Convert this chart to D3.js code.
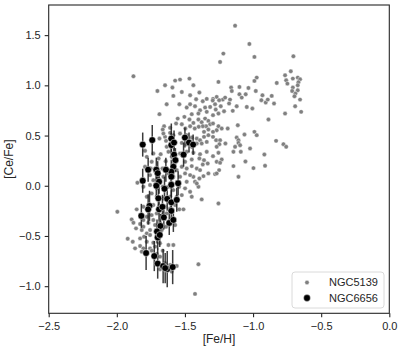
<!DOCTYPE html>
<html>
<head>
<meta charset="utf-8">
<script src="https://cdn.jsdelivr.net/npm/d3@7"></script>
<style>
  body { margin: 0; background: #fff; }
  svg { display: block; font-family: "Liberation Sans", Arial, sans-serif; }
</style>
</head>
<body>
<div id="graph"></div>
<script>
// DONNEES

// NGC5139 : [Fe/H], [Ce/Fe]
const ngc5139 = [
  [-1.132,1.594],[-1.027,1.412],[-1.218,1.316],[-0.990,1.283],[-0.704,1.289],[-1.242,1.233],
  [-1.878,1.090],[-1.536,1.057],[-1.467,1.067],[-1.572,1.047],[-1.254,1.034],[-0.973,1.077],
  [-0.990,1.044],[-0.765,1.100],[-0.723,1.140],[-0.757,1.050],[-0.708,1.067],[-0.672,1.077],
  [-0.655,1.060],[-0.667,1.031],[-0.748,1.017],[-0.826,1.024],
  [-1.702,0.944],[-1.646,1.001],[-1.592,0.978],[-1.585,0.895],[-1.523,0.934],[-1.438,1.001],
  [-1.394,0.928],[-1.462,0.901],[-1.161,0.978],[-1.100,0.984],[-1.034,0.974],[-0.980,0.944],
  [-1.054,0.911],[-1.100,0.911],[-1.156,0.944],[-1.169,0.858],[-1.222,0.858],[-1.267,0.885],
  [-1.205,0.878],[-1.294,0.865],[-1.083,0.878],[-0.931,0.901],[-0.863,0.895],[-0.708,0.978],
  [-0.713,0.944],[-0.672,0.951],[-0.689,0.918],[-0.696,0.891],[-0.655,0.858],[-0.672,1.001],
  [-1.634,0.812],[-1.541,0.812],[-1.462,0.812],[-1.426,0.792],[-1.487,0.779],[-1.418,0.862],
  [-1.369,0.842],[-1.340,0.865],[-1.296,0.849],[-1.279,0.812],[-1.249,0.852],[-1.352,0.779],
  [-1.315,0.785],[-1.389,0.752],[-1.274,0.759],[-1.237,0.792],[-1.176,0.819],[-1.120,0.792],
  [-1.046,0.785],[-1.005,0.769],[-0.939,0.852],[-0.907,0.829],[-0.846,0.819],[-0.892,0.858],
  [-0.691,0.792],[-0.647,0.736],[-0.765,0.719],[-1.450,0.713],[-1.401,0.719],[-1.340,0.736],
  [-1.294,0.703],[-1.254,0.719],[-1.213,0.742],[-1.149,0.746],[-1.687,0.713],[-0.887,0.660],
  [-1.553,0.669],[-1.504,0.686],[-1.467,0.660],[-1.438,0.626],[-1.401,0.660],[-1.377,0.633],
  [-1.352,0.669],[-1.328,0.646],[-1.315,0.613],[-1.345,0.593],[-1.294,0.620],[-1.369,0.593],
  [-1.399,0.587],[-1.428,0.570],[-1.462,0.593],[-1.497,0.570],[-1.523,0.613],[-1.565,0.620],
  [-1.609,0.577],[-1.653,0.593],[-1.663,0.560],[-1.254,0.593],[-1.230,0.570],[-1.186,0.570],
  [-1.112,0.603],[-0.777,0.414],[-0.757,0.388],[-0.831,0.447],[-1.063,0.510],[-0.990,0.537],
  [-0.973,0.504],[-1.120,0.480],[-1.107,0.454],[-1.267,0.553],[-1.294,0.537],[-1.328,0.560],
  [-1.360,0.537],
  [-1.646,0.487],[-1.658,0.520],[-1.585,0.504],[-1.609,0.527],[-1.536,0.520],[-1.487,0.504],
  [-1.450,0.480],[-1.413,0.470],[-1.389,0.454],[-1.360,0.487],[-1.328,0.504],[-1.294,0.487],
  [-1.271,0.454],[-1.340,0.437],[-1.377,0.421],[-1.413,0.421],[-1.450,0.388],[-1.487,0.414],
  [-1.523,0.427],[-1.572,0.427],[-1.602,0.388],[-1.639,0.447],[-1.687,0.470],[-1.634,0.388],
  [-1.242,0.454],[-1.247,0.414],[-1.267,0.388],[-1.203,0.421],[-1.107,0.427],[-1.132,0.388],
  [-1.095,0.404],[-1.022,0.371],
  [-1.793,0.348],[-1.732,0.321],[-1.678,0.315],[-1.621,0.338],[-1.585,0.305],[-1.536,0.321],
  [-1.487,0.338],[-1.438,0.328],[-1.389,0.315],[-1.340,0.338],[-1.294,0.295],[-1.254,0.328],
  [-1.394,0.272],[-1.360,0.255],[-1.450,0.262],[-1.499,0.239],[-1.560,0.255],[-1.597,0.288],
  [-1.641,0.245],[-1.693,0.272],[-1.744,0.239],[-1.780,0.288],[-1.230,0.262],[-1.267,0.239],
  [-1.242,0.229],[-1.144,0.338],[-1.090,0.338],[-1.056,0.242],[-0.917,0.311],[-1.333,0.222],
  [-1.369,0.212],
  [-1.793,0.189],[-1.751,0.172],[-1.719,0.149],[-1.707,0.123],[-1.665,0.172],[-1.626,0.156],
  [-1.560,0.156],[-1.523,0.189],[-1.487,0.172],[-1.450,0.196],[-1.413,0.172],[-1.389,0.156],
  [-1.328,0.123],[-1.364,0.096],[-1.394,0.073],[-1.438,0.089],[-1.462,0.106],[-1.499,0.123],
  [-1.536,0.089],[-1.585,0.089],[-1.621,0.123],[-1.658,0.089],[-1.695,0.073],[-1.732,0.056],
  [-1.756,0.106],[-1.279,0.116],[-1.249,0.156],[-1.267,0.123],[-1.144,0.196],[-1.107,0.089],
  [-0.997,0.176],[-0.912,0.199],[-1.487,0.040],[-1.426,0.040],
  [-1.849,0.030],[-1.805,-0.010],[-1.756,0.007],[-1.707,-0.026],[-1.663,-0.010],[-1.621,-0.010],
  [-1.585,-0.043],[-1.543,-0.010],[-1.499,-0.026],[-1.462,-0.060],[-1.523,-0.093],[-1.560,-0.109],
  [-1.609,-0.109],[-1.658,-0.126],[-1.707,-0.109],[-1.744,-0.076],[-1.780,-0.109],[-1.450,-0.109],
  [-1.401,-0.010],[-1.377,-0.136],[-1.413,0.023],
  [-1.996,-0.259],[-1.854,-0.235],[-1.805,-0.209],[-1.768,-0.242],[-1.732,-0.192],[-1.687,-0.202],
  [-1.646,-0.209],[-1.609,-0.225],[-1.572,-0.192],[-1.541,-0.235],[-1.511,-0.235],[-1.707,-0.275],
  [-1.663,-0.292],[-1.634,-0.275],[-1.744,-0.292],[-1.780,-0.308],[-1.829,-0.292],[-1.805,-0.341],
  [-1.254,-0.176],
  [-1.891,-0.335],[-1.878,-0.368],[-1.829,-0.381],[-1.805,-0.408],[-1.768,-0.368],[-1.732,-0.341],
  [-1.719,-0.391],[-1.683,-0.374],[-1.639,-0.408],[-1.609,-0.358],[-1.572,-0.391],[-1.597,-0.325],
  [-1.859,-0.424],[-1.817,-0.441],[-1.756,-0.441],[-1.707,-0.457],[-1.670,-0.441],[-1.780,-0.474],
  [-1.920,-0.527],[-1.883,-0.557],[-1.829,-0.524],[-1.800,-0.507],[-1.756,-0.491],[-1.707,-0.514],
  [-1.780,-0.557],[-1.732,-0.567],[-1.683,-0.573],[-1.829,-0.600],[-1.866,-0.623],[-1.805,-0.623],
  [-1.756,-0.623],[-1.719,-0.606],
  [-1.817,-0.656],[-1.780,-0.673],[-1.744,-0.646],[-1.707,-0.679],[-1.663,-0.646],[-1.621,-0.590],
  [-1.585,-0.590],[-1.683,-0.706],[-1.646,-0.772],[-1.609,-0.789],[-1.585,-0.805],[-1.560,-0.799],
  [-1.707,-0.772],[-1.658,-0.805],
  [-1.634,-0.838],[-1.597,-0.855],[-1.683,-0.832],[-1.401,-0.782],[-1.426,-1.077]
];

// NGC6656 : [Fe/H], [Ce/Fe], erreur
const ngc6656 = [
  [-1.81,0.41,0.12],[-1.74,0.455,0.15],[-1.60,0.47,0.15],[-1.60,0.405,0.12],[-1.58,0.43,0.12],
  [-1.50,0.48,0.10],[-1.47,0.43,0.10],[-1.44,0.41,0.10],[-1.51,0.31,0.12],[-1.58,0.31,0.12],
  [-1.57,0.255,0.12],[-1.585,0.19,0.12],[-1.60,0.14,0.12],[-1.77,0.16,0.12],[-1.71,0.16,0.12],
  [-1.70,0.125,0.12],[-1.64,0.16,0.12],[-1.81,0.05,0.12],[-1.69,0.04,0.12],[-1.71,0.0,0.12],
  [-1.60,0.09,0.12],[-1.60,0.01,0.12],[-1.55,0.025,0.12],[-1.65,-0.03,0.12],[-1.695,-0.125,0.12],
  [-1.63,-0.13,0.12],[-1.60,-0.165,0.12],[-1.56,-0.14,0.12],[-1.76,-0.20,0.15],[-1.77,-0.235,0.15],
  [-1.82,-0.30,0.12],[-1.69,-0.235,0.12],[-1.665,-0.21,0.12],[-1.60,-0.25,0.12],[-1.655,-0.315,0.12],
  [-1.615,-0.37,0.12],[-1.585,-0.34,0.12],[-1.68,-0.40,0.12],[-1.705,-0.455,0.12],[-1.70,-0.515,0.12],
  [-1.685,-0.49,0.12],[-1.785,-0.67,0.17],[-1.725,-0.70,0.15],[-1.70,-0.775,0.15],[-1.66,-0.80,0.17],
  [-1.63,-0.83,0.18],[-1.59,-0.81,0.17],[-1.645,-0.82,0.15]
];

const xTicks = [-2.5, -2.0, -1.5, -1.0, -0.5, 0.0];
const yTicks = [-1.0, -0.5, 0.0, 0.5, 1.0, 1.5];
const series = ['NGC5139', 'NGC6656'];

// CREATION DU GRAPHE
let width = 407, height = 357;
let mLeft = 48.7, mRight = 389.3, mTop = 5, mBottom = 313.3;
let ink = '#262626';

let x = d3.scaleLinear().domain([-2.5, 0]).range([mLeft, mRight]);
let y = d3.scaleLinear().domain([-1.27, 1.80]).range([mBottom, mTop]);
let fmt = d3.format('.1f');

let svg = d3.select('#graph').append('svg')
    .attr('width', width)
    .attr('height', height);

// axes
let xAxis = svg.append('g')
    .attr('transform', 'translate(0,' + mBottom + ')')
    .call(d3.axisBottom(x).tickValues(xTicks).tickFormat(fmt).tickSize(4).tickPadding(5));
let yAxis = svg.append('g')
    .attr('transform', 'translate(' + mLeft + ',0)')
    .call(d3.axisLeft(y).tickValues(yTicks).tickFormat(fmt).tickSize(4).tickPadding(4));

[xAxis, yAxis].forEach(function(a){
    a.select('.domain').remove();
    a.selectAll('line').attr('stroke', ink).attr('stroke-width', 1.1);
    a.selectAll('text').attr('fill', ink).style('font-size', '11px')
        .style('font-family', '"Liberation Sans", Arial, sans-serif');
});

// NGC5139
svg.append('g').selectAll('circle')
    .data(ngc5139)
    .join('circle')
    .attr('cx', d => x(d[0]))
    .attr('cy', d => y(d[1]))
    .attr('r', 2.2)
    .attr('fill', '#808080')
    .attr('stroke', '#fff')
    .attr('stroke-width', 0.4);

// NGC6656 barres d'erreur
svg.append('g').selectAll('line')
    .data(ngc6656)
    .join('line')
    .attr('x1', d => x(d[0]))
    .attr('x2', d => x(d[0]))
    .attr('y1', d => y(d[1] - d[2]))
    .attr('y2', d => y(d[1] + d[2]))
    .attr('stroke', '#1a1a1a')
    .attr('stroke-opacity', 0.85)
    .attr('stroke-width', 1.5);

svg.append('g').selectAll('circle')
    .data(ngc6656)
    .join('circle')
    .attr('cx', d => x(d[0]))
    .attr('cy', d => y(d[1]))
    .attr('r', 3.4)
    .attr('fill', '#000')
    .attr('stroke', '#fff')
    .attr('stroke-width', 0.5);

// cadre
svg.append('rect')
    .attr('x', mLeft).attr('y', mTop)
    .attr('width', mRight - mLeft).attr('height', mBottom - mTop)
    .attr('fill', 'none')
    .attr('stroke', ink)
    .attr('stroke-width', 1.1);

// titres des axes
svg.append('text')
    .attr('x', (mLeft + mRight) / 2)
    .attr('y', 343)
    .attr('text-anchor', 'middle')
    .attr('fill', ink)
    .style('font-size', '12px')
    .text('[Fe/H]');

svg.append('text')
    .attr('transform', 'translate(13,' + (mTop + mBottom) / 2 + ') rotate(-90)')
    .attr('text-anchor', 'middle')
    .attr('fill', ink)
    .style('font-size', '12px')
    .text('[Ce/Fe]');

// legende
let legend = svg.append('g');
legend.append('rect')
    .attr('x', 292).attr('y', 272)
    .attr('width', 92).attr('height', 36)
    .attr('rx', 3)
    .attr('fill', '#fff').attr('fill-opacity', 0.8)
    .attr('stroke', '#d0d0d0').attr('stroke-width', 0.8);

let rows = legend.selectAll('g.row')
    .data(series)
    .join('g')
    .attr('class', 'row')
    .attr('transform', (d, i) => 'translate(307,' + (282.5 + i * 15.5) + ')');

rows.append('circle')
    .attr('r', (d, i) => i ? 3.4 : 2.2)
    .attr('fill', (d, i) => i ? '#000' : '#808080')
    .attr('stroke', '#fff')
    .attr('stroke-width', 0.4);

rows.append('text')
    .attr('x', 22)
    .attr('dy', '0.36em')
    .attr('fill', ink)
    .style('font-size', '11px')
    .text(d => d);
</script>
</body>
</html>
